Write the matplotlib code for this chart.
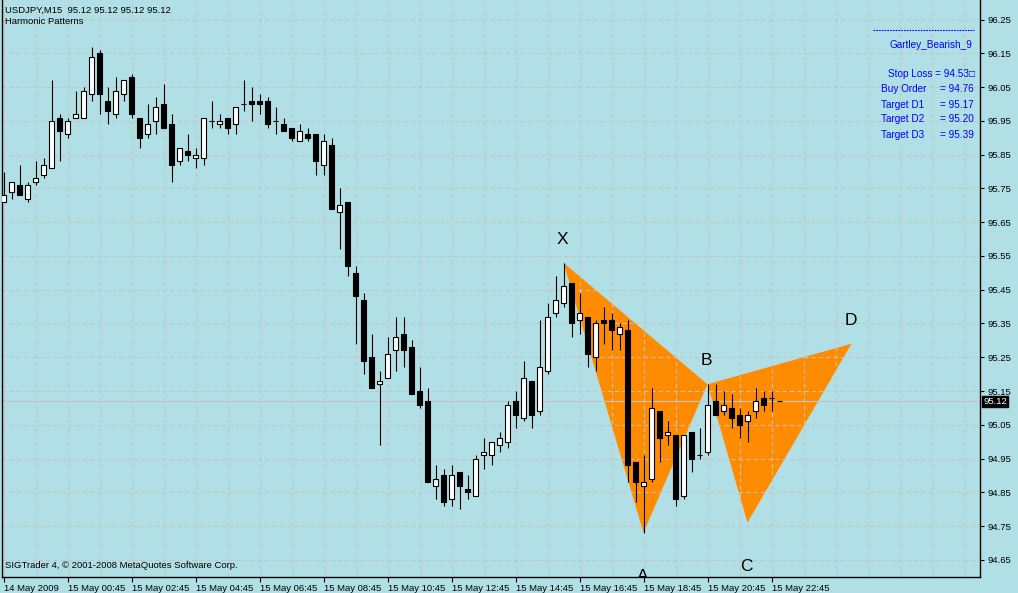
import matplotlib
matplotlib.use("Agg")
import matplotlib.pyplot as plt
from matplotlib.lines import Line2D

# USDJPY M15 candles (bar 0 = 14 May 2009 22:45)
opens = [95.71, 95.74, 95.76, 95.72, 95.77, 95.79, 95.81, 95.96, 95.91, 95.96,
         95.96, 96.03, 96.15, 96.01, 95.97, 96.03, 96.08, 95.96, 95.91, 95.95,
         96.00, 95.94, 95.83, 95.86, 95.84, 95.84, 95.95, 95.94, 95.96, 95.94,
         96.00, 96.01, 96.01, 96.01, 95.95, 95.94, 95.93, 95.89, 95.91, 95.91,
         95.82, 95.88, 95.68, 95.71, 95.50, 95.42, 95.25, 95.17, 95.19, 95.27,
         95.32, 95.28, 95.15, 95.12, 94.87, 94.90, 94.83, 94.91, 94.86, 94.84,
         94.96, 94.96, 94.99, 95.00, 95.12, 95.07, 95.18, 95.09, 95.21, 95.38,
         95.41, 95.47, 95.36, 95.37, 95.25, 95.36, 95.36, 95.32, 95.33, 94.94,
         94.87, 94.89, 95.09, 95.02, 95.02, 94.84, 95.03, 94.96, 94.97, 95.12,
         95.09, 95.10, 95.08, 95.06, 95.09, 95.13, 95.13, 95.12]
highs = [95.80, 95.77, 95.82, 95.77, 95.83, 95.84, 96.07, 95.97, 95.96, 96.04,
         96.05, 96.17, 96.16, 96.05, 96.08, 96.07, 96.09, 95.96, 96.00, 96.02,
         96.06, 95.97, 95.87, 95.91, 95.87, 95.96, 96.01, 95.97, 95.96, 95.99,
         96.07, 96.05, 96.03, 96.02, 95.99, 95.96, 95.93, 95.94, 95.93, 95.91,
         95.91, 95.90, 95.75, 95.71, 95.52, 95.44, 95.32, 95.21, 95.31, 95.37,
         95.37, 95.30, 95.22, 95.16, 94.93, 94.92, 94.93, 94.91, 94.90, 94.96,
         95.01, 95.00, 95.03, 95.12, 95.15, 95.24, 95.18, 95.36, 95.41, 95.49,
         95.53, 95.47, 95.44, 95.37, 95.36, 95.40, 95.38, 95.35, 95.36, 94.94,
         94.96, 95.16, 95.09, 95.06, 95.02, 95.02, 95.03, 95.04, 95.17, 95.17,
         95.15, 95.14, 95.10, 95.09, 95.16, 95.15, 95.15, 95.12]
lows = [95.71, 95.72, 95.73, 95.71, 95.76, 95.78, 95.81, 95.83, 95.90, 95.96,
        95.96, 96.01, 95.97, 95.94, 95.96, 96.01, 95.96, 95.87, 95.90, 95.91,
        95.93, 95.77, 95.82, 95.83, 95.81, 95.82, 95.93, 95.93, 95.91, 95.91,
        95.98, 95.95, 95.97, 95.93, 95.91, 95.92, 95.89, 95.89, 95.89, 95.79,
        95.79, 95.69, 95.57, 95.49, 95.29, 95.20, 95.16, 94.99, 95.19, 95.21,
        95.22, 95.14, 95.10, 94.88, 94.83, 94.81, 94.81, 94.80, 94.83, 94.84,
        94.92, 94.93, 94.97, 94.98, 95.04, 95.06, 95.04, 95.08, 95.20, 95.37,
        95.40, 95.31, 95.32, 95.22, 95.21, 95.29, 95.27, 95.27, 94.88, 94.82,
        94.73, 94.88, 94.94, 94.99, 94.81, 94.83, 94.91, 94.95, 94.96, 95.08,
        95.08, 95.04, 95.01, 95.00, 95.07, 95.09, 95.09, 95.12]
closes = [95.73, 95.77, 95.73, 95.76, 95.78, 95.82, 95.95, 95.92, 95.95, 95.97,
          96.04, 96.14, 96.03, 95.98, 96.04, 96.07, 95.97, 95.90, 95.94, 95.99,
          95.93, 95.82, 95.87, 95.85, 95.85, 95.96, 95.95, 95.95, 95.93, 95.99,
          96.00, 96.00, 96.00, 95.94, 95.95, 95.92, 95.90, 95.92, 95.90, 95.83,
          95.89, 95.69, 95.70, 95.52, 95.43, 95.24, 95.16, 95.18, 95.26, 95.31,
          95.27, 95.14, 95.11, 94.88, 94.89, 94.82, 94.90, 94.87, 94.85, 94.95,
          94.97, 95.00, 95.01, 95.11, 95.08, 95.19, 95.08, 95.22, 95.37, 95.42,
          95.46, 95.35, 95.38, 95.26, 95.35, 95.35, 95.33, 95.34, 94.93, 94.88,
          94.88, 95.10, 95.01, 95.03, 94.83, 95.02, 94.95, 94.96, 95.11, 95.08,
          95.11, 95.07, 95.05, 95.08, 95.12, 95.11, 95.13, 95.12]

# Gartley pattern points (bar index, price)
pattern_names = ["X", "A", "B", "C", "D"]
pattern_bars = [70, 80, 88, 93, 106]
pattern_prices = [95.53, 94.73, 95.17, 94.76, 95.29]

# time axis labels, one every 8 bars (2 hours)
time_labels = ["14 May 2009", "15 May 00:45", "15 May 02:45", "15 May 04:45",
               "15 May 06:45", "15 May 08:45", "15 May 10:45", "15 May 12:45",
               "15 May 14:45", "15 May 16:45", "15 May 18:45", "15 May 20:45",
               "15 May 22:45"]
price_ticks = [94.65, 94.75, 94.85, 94.95, 95.05, 95.15, 95.25, 95.35, 95.45,
               95.55, 95.65, 95.75, 95.85, 95.95, 96.05, 96.15, 96.25]
last_price = 95.12

info_names = ["Buy Order", "Target D1", "Target D2", "Target D3"]
info_values = [94.76, 95.17, 95.20, 95.39]
stop_loss = 94.53

BG = "#b0e0e6"
GRID = "#c9c0c0"
BLUE = "#0000ff"
ORANGE = "#ff8c00"
FONT = "Liberation Sans"

W, H = 1018, 593
fig = plt.figure(figsize=(W / 100, H / 100), dpi=100)
fig.patch.set_facecolor(BG)


def fx(px):
    return px / W


def fy(py):
    return 1 - py / H


ax = fig.add_axes([fx(2), fy(577), (980 - 2) / W, 577 / H])
ax.set_facecolor(BG)
ax.set_xlim(-0.1875, 122.0625)
ax.set_ylim(94.5989, 96.3085)

# pattern triangles (background)
xab = list(zip(pattern_bars[:3], pattern_prices[:3]))
bcd = list(zip(pattern_bars[2:], pattern_prices[2:]))
for tri in (xab, bcd):
    ax.add_patch(plt.Polygon(tri, closed=True, facecolor=ORANGE,
                             edgecolor="none", zorder=0.2))

# grid
ax.set_axisbelow(True)
ax.set_xticks(range(0, 97, 8))
ax.set_xticks(range(0, 123, 4), minor=True)
ax.set_yticks(price_ticks)
ax.grid(True, which="both", color=GRID, linestyle=(0, (4, 3)), linewidth=0.75)
ax.axhline(last_price, color="#c4c4c4", linewidth=0.8, zorder=0.6)

# candles
for i, (o, h, l, c) in enumerate(zip(opens, highs, lows, closes)):
    ax.vlines(i, l, h, color="black", linewidth=0.8, zorder=2)
    face = "white" if c >= o else "black"
    ax.bar(i, c - o, bottom=o, width=0.55, color=face, edgecolor="black",
           linewidth=0.8, zorder=3)

# pattern labels
for name, b, p in zip(pattern_names, pattern_bars, pattern_prices):
    is_low = name in ("A", "C")
    y = p - 0.13 if is_low else p + 0.07
    ax.text(b - 0.1, y, name, ha="center", va="center", fontsize=12.5,
            family=FONT, color="black", zorder=4, clip_on=True)

# axes styling
for side in ("top",):
    ax.spines[side].set_visible(False)
for side in ("left", "right", "bottom"):
    ax.spines[side].set_color("black")
    ax.spines[side].set_linewidth(1.0)
ax.yaxis.tick_right()
ax.set_yticklabels([f"{v:.2f}" for v in price_ticks])
ax.set_xticklabels(time_labels)
ax.tick_params(axis="y", which="major", direction="out", length=3, width=0.8,
               pad=2.5, labelsize=6.8)
ax.tick_params(axis="x", which="major", direction="out", length=3.5, width=0.8,
               pad=1.5, labelsize=6.8)
ax.tick_params(which="minor", length=0)
for lab in ax.get_xticklabels():
    lab.set_horizontalalignment("left")
    lab.set_family(FONT)
for lab in ax.get_yticklabels():
    lab.set_family(FONT)

# current price box
fig.text(fx(983), fy(401.5), f"{last_price:.2f}", ha="left", va="center",
         fontsize=6.8, family=FONT, color="white",
         bbox=dict(boxstyle="square,pad=0.15", facecolor="black",
                   edgecolor="black"))

# header texts
fig.text(fx(5), fy(10), "USDJPY,M15  95.12 95.12 95.12 95.12", ha="left",
         va="center", fontsize=6.8, family=FONT, color="black")
fig.text(fx(5), fy(22), "Harmonic Patterns", ha="left", va="center",
         fontsize=6.8, family=FONT, color="black")
fig.text(fx(5), fy(566), "SIGTrader 4, \u00a9 2001-2008 MetaQuotes Software Corp.",
         ha="left", va="center", fontsize=6.8, family=FONT, color="black")

# pattern info panel
fig.add_artist(Line2D([fx(873), fx(974)], [fy(30), fy(30)], color=BLUE,
                      linewidth=0.8, linestyle=(0, (1.5, 1))))
fig.text(fx(972), fy(45), "Gartley_Bearish_9", ha="right", va="center",
         fontsize=7.2, family=FONT, color=BLUE)
fig.text(fx(975), fy(74), f"Stop Loss = {stop_loss:.2f}\u25a1", ha="right",
         va="center", fontsize=7.2, family=FONT, color=BLUE)
for j, (name, val) in enumerate(zip(info_names, info_values)):
    yy = 89.5 + 15 * j
    fig.text(fx(881), fy(yy), name, ha="left", va="center", fontsize=7.2,
             family=FONT, color=BLUE)
    fig.text(fx(974), fy(yy), f"= {val:.2f}", ha="right", va="center",
             fontsize=7.2, family=FONT, color=BLUE)

fig.savefig("out.png", dpi=100, facecolor=BG)
